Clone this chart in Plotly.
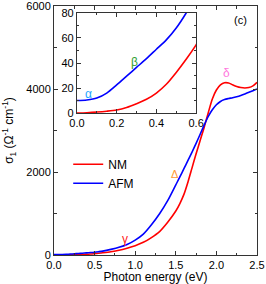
import plotly.graph_objects as go

energy = [0.0, 0.05, 0.1, 0.15, 0.2, 0.25, 0.3, 0.35, 0.4, 0.45, 0.5, 0.55, 0.6,
          0.7, 0.8, 0.9, 1.0, 1.1, 1.2, 1.3, 1.4, 1.5, 1.55, 1.6, 1.65, 1.7, 1.75, 1.8, 1.85,
          1.9, 1.95, 2.0, 2.05, 2.1, 2.15, 2.2, 2.25, 2.3, 2.35, 2.4, 2.45, 2.5]

sigma_nm = [0, 0.3, 0.8, 1.5, 2.5, 4.5, 7.5, 11, 16, 23, 32.5, 43, 54.5,
            80, 115, 165, 225, 305, 420, 565, 790, 1060, 1240, 1460, 1760, 2100, 2440, 2760, 3080,
            3430, 3760, 3976, 4100, 4150, 4145, 4100, 4060, 4035, 4025, 4035, 4075, 4160]

sigma_afm = [10, 10.5, 12, 16, 22.5, 29.5, 36.5, 43.5, 51, 58.5, 68, 80, 94,
             135, 185, 255, 360, 505, 730, 995, 1310, 1690, 1880, 2080, 2280, 2480, 2690, 2910, 3130,
             3340, 3500, 3620, 3700, 3745, 3770, 3790, 3815, 3845, 3880, 3920, 3960, 4000]

x_ticks_main = [0.0, 0.5, 1.0, 1.5, 2.0, 2.5]
y_ticks_main = [0, 2000, 4000, 6000]
x_ticks_inset = [0.0, 0.2, 0.4, 0.6]
y_ticks_inset = [0, 20, 40, 60, 80]

RED = "#ff0000"
BLUE = "#0000ff"
AXC = "#333333"
FONT = "Liberation Sans, Arial, sans-serif"

line_nm = dict(color=RED, width=1.6, shape="spline", smoothing=0.8)
line_afm = dict(color=BLUE, width=1.6, shape="spline", smoothing=0.8)

fig = go.Figure()
fig.add_trace(go.Scatter(x=energy, y=sigma_nm, mode="lines", name="NM",
                         line=line_nm, xaxis="x", yaxis="y"))
fig.add_trace(go.Scatter(x=energy, y=sigma_afm, mode="lines", name="AFM",
                         line=line_afm, xaxis="x", yaxis="y"))
fig.add_trace(go.Scatter(x=energy, y=sigma_nm, mode="lines", showlegend=False,
                         line=line_nm, xaxis="x2", yaxis="y2"))
fig.add_trace(go.Scatter(x=energy, y=sigma_afm, mode="lines", showlegend=False,
                         line=line_afm, xaxis="x2", yaxis="y2"))

axis_common = dict(showline=True, linecolor=AXC, linewidth=1, mirror="allticks",
                   ticks="inside", tickcolor=AXC, ticklen=4, showgrid=False,
                   zeroline=False, automargin=False, ticklabeloverflow="allow",
                   tickfont=dict(size=11, color="#000", family=FONT))

fig.update_layout(
    width=266, height=284,
    margin=dict(l=54, r=9, t=6, b=29, autoexpand=False),
    paper_bgcolor="white", plot_bgcolor="white",
    font=dict(family=FONT, color="#000"),
    showlegend=True,
    legend=dict(x=0.07, y=0.3265, xanchor="left", yanchor="middle",
                bgcolor="rgba(0,0,0,0)", font=dict(size=12, family=FONT),
                tracegroupgap=0, itemwidth=30),
    xaxis=dict(range=[0, 2.5], tickvals=x_ticks_main, tickformat=".1f",
               minor=dict(dtick=0.25, ticks="inside", ticklen=2.5, tickcolor=AXC),
               title=dict(text="Photon energy (eV)", font=dict(size=12, family=FONT), standoff=0),
               domain=[0, 1], anchor="y", **axis_common),
    yaxis=dict(range=[0, 6000], tickvals=y_ticks_main,
               minor=dict(dtick=1000, ticks="inside", ticklen=2.5, tickcolor=AXC),
               title=dict(text="σ<sub>1</sub> (Ω<sup>-1</sup> cm<sup>-1</sup>)",
                          font=dict(size=12, family=FONT), standoff=10),
               domain=[0, 1], anchor="x", **axis_common),
    xaxis2=dict(range=[0, 0.6], tickvals=x_ticks_inset, tickformat=".1f",
                minor=dict(dtick=0.1, ticks="inside", ticklen=2.5, tickcolor=AXC),
                domain=[0.113, 0.70], anchor="y2", **axis_common),
    yaxis2=dict(range=[0, 80], tickvals=y_ticks_inset,
                minor=dict(dtick=10, ticks="inside", ticklen=2.5, tickcolor=AXC),
                domain=[0.570, 0.972], anchor="x2", **axis_common),
)

annots = [
    dict(x=0.06, y=15, xref="x2", yref="y2", text="α", font=dict(color="#22a6ff", size=12)),
    dict(x=0.29, y=41, xref="x2", yref="y2", text="β", font=dict(color="#33a033", size=12)),
    dict(x=0.87, y=390, xref="x", yref="y", text="γ", font=dict(color="#ff2020", size=12)),
    dict(x=1.485, y=1940, xref="x", yref="y", text="Δ", font=dict(color="#ff9933", size=11)),
    dict(x=2.13, y=4380, xref="x", yref="y", text="δ", font=dict(color="#ff77dd", size=12)),
    dict(x=2.30, y=5660, xref="x", yref="y", text="(c)", font=dict(color="#000", size=11)),
]
for a in annots:
    a.update(showarrow=False, xanchor="center", yanchor="middle")
    a["font"]["family"] = FONT
    fig.add_annotation(**a)

fig.write_html("out.html", config={"displayModeBar": False},
               post_script="document.body.style.margin='0';document.body.style.overflow='hidden';")
